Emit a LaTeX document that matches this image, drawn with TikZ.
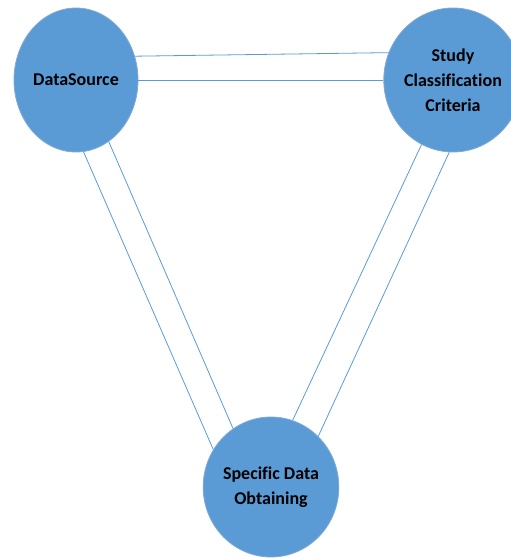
\documentclass[tikz,border=0pt]{standalone}
\usepackage{fontspec}
\setmainfont[Ligatures=NoCommon]{Carlito}
\usetikzlibrary{shapes.geometric}
\definecolor{bubble}{HTML}{5B9BD5}
\definecolor{bubbleedge}{HTML}{7FA9D6}
\definecolor{linkc}{HTML}{5B9BD5}
\tikzset{
  bubble/.style={ellipse, fill=bubble, draw=bubbleedge, line width=0.8pt,
    minimum width=124pt, minimum height=144pt, inner sep=0pt, align=center,
    font=\fontsize{18}{25}\selectfont\bfseries},
  link/.style={draw=linkc, line width=0.8pt}
}
\begin{document}
\begin{tikzpicture}[x=1pt,y=-1pt]
\useasboundingbox (0,0) rectangle (511,560);
\node[bubble] (ds) at (76,80) {DataSource};
\node[bubble] (scc) at (453,80) {Study\\Classification\\Criteria};
\node[bubble, minimum height=140pt] (sdo) at (271,487) {Specific Data\\Obtaining};
\draw[link] (ds.22) -- (scc.157);
\draw[link] (ds.0) -- (scc.180);
\draw[link] (ds.-84) -- (sdo.147);
\draw[link] (ds.-62) -- (sdo.123);
\draw[link] (scc.-116) -- (sdo.72);
\draw[link] (scc.-93) -- (sdo.47);
\end{tikzpicture}
\end{document}
